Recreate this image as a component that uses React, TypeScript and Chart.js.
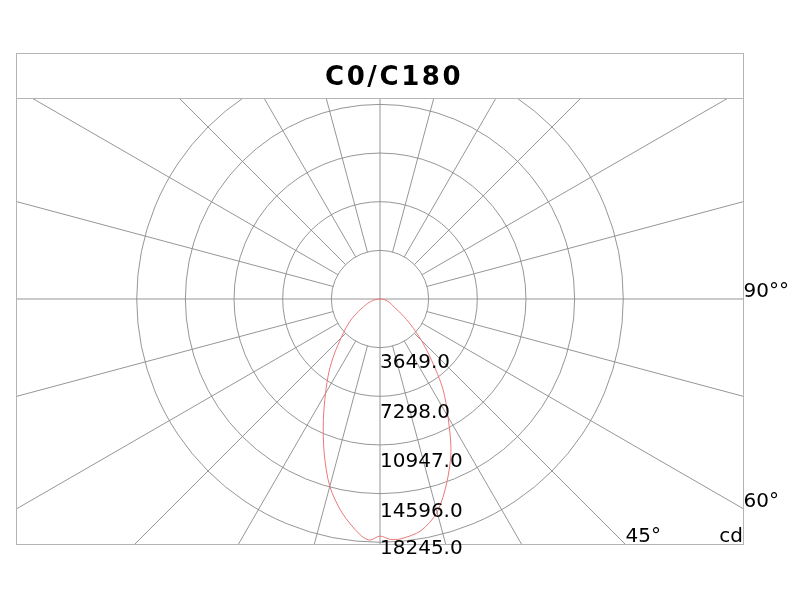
import React, { useEffect, useRef } from "react";
import { Chart, registerables } from "chart.js";

Chart.register(...registerables);

// ---- Data ----
const chartTitle = "C0/C180";
const gammaAngles = [0, 2.5, 5, 10, 15, 20, 25, 30, 35, 40, 45, 50, 55, 60, 65, 70, 75, 80, 85, 90];
const c0Intensity = [17780, 18050, 18050, 17650, 16550, 14650, 12600, 10200, 8220, 6040, 4400, 3020, 1990, 1250, 975, 750, 560, 375, 190, 0];
const c180Intensity = [17780, 18100, 17700, 16300, 14550, 12250, 10050, 8175, 6675, 5290, 4125, 3300, 2590, 1875, 1350, 1010, 710, 450, 225, 0];
const ringValues = [3649, 7298, 10947, 14596, 18245];
const ringLabels = ["3649.0", "7298.0", "10947.0", "14596.0", "18245.0"];
const spokeAngles = [0, 15, 30, 45, 60, 75, 90, 105, 120, 135, 150, 165, 180, 195, 210, 225, 240, 255, 270, 285, 300, 315, 330, 345];
const angleLabelAngles = [90, 60, 45];
const angleLabelTexts = ["90°°", "60°", "45°"];
const unitLabel = "cd";
const xRange = [-27300, 27225];
const yRange = [-18375, 15075];

const FONT = "'DejaVu Sans', Verdana, sans-serif";
const deg = Math.PI / 180;

function buildCurve() {
  const pts: { x: number; y: number }[] = [];
  for (let i = gammaAngles.length - 1; i >= 0; i--) {
    const a = gammaAngles[i] * deg;
    const v = c0Intensity[i];
    pts.push({ x: v * Math.sin(a), y: -v * Math.cos(a) });
  }
  for (let i = 1; i < gammaAngles.length; i++) {
    const a = gammaAngles[i] * deg;
    const v = c180Intensity[i];
    pts.push({ x: -v * Math.sin(a), y: -v * Math.cos(a) });
  }
  return pts;
}

const polarPlugin = {
  id: "polarGrid",
  beforeDatasetsDraw(chart: any) {
    const { ctx, chartArea: a, scales } = chart;
    const sx = scales.x;
    const sy = scales.y;
    const cx = sx.getPixelForValue(0);
    const cy = sy.getPixelForValue(0);
    ctx.save();
    ctx.beginPath();
    ctx.rect(a.left, a.top, a.right - a.left, a.bottom - a.top);
    ctx.clip();
    ctx.strokeStyle = "#8a8a8a";
    ctx.lineWidth = 0.9;
    ringValues.forEach((v) => {
      const r = sx.getPixelForValue(v) - cx;
      ctx.beginPath();
      ctx.arc(cx, cy, r, 0, Math.PI * 2);
      ctx.stroke();
    });
    const far = 80000;
    spokeAngles.forEach((ang) => {
      const start = ang % 90 === 0 ? 0 : ringValues[0];
      const s = Math.sin(ang * deg);
      const c = Math.cos(ang * deg);
      ctx.beginPath();
      ctx.moveTo(sx.getPixelForValue(start * s), sy.getPixelForValue(-start * c));
      ctx.lineTo(sx.getPixelForValue(far * s), sy.getPixelForValue(-far * c));
      ctx.stroke();
    });
    ctx.restore();
  },
  afterDatasetsDraw(chart: any) {
    const { ctx, chartArea: a, scales } = chart;
    const sx = scales.x;
    const sy = scales.y;
    const cx = sx.getPixelForValue(0);
    const cy = sy.getPixelForValue(0);
    ctx.save();
    // frame
    const titleTop = a.top - 45;
    ctx.strokeStyle = "#b4b4b4";
    ctx.lineWidth = 1;
    ctx.strokeRect(a.left + 0.5, titleTop + 0.5, a.right - a.left, a.bottom - titleTop);
    ctx.beginPath();
    ctx.moveTo(a.left, a.top + 0.5);
    ctx.lineTo(a.right, a.top + 0.5);
    ctx.stroke();

    // title
    ctx.fillStyle = "#000";
    ctx.font = `bold 26px ${FONT}`;
    ctx.textAlign = "left";
    ctx.textBaseline = "alphabetic";
    (ctx as any).letterSpacing = "2.6px";
    ctx.fillText(chartTitle, 325, titleTop + 32);
    (ctx as any).letterSpacing = "0px";

    // ring labels
    ctx.font = `20px ${FONT}`;
    ringValues.forEach((v, i) => {
      const yy = sy.getPixelForValue(-v);
      const base = Math.min(yy + 20.5 + i, a.bottom + 9.5);
      ctx.fillText(ringLabels[i], cx, base);
    });

    // angle labels at spoke ends
    angleLabelAngles.forEach((ang, i) => {
      const s = Math.sin(ang * deg);
      const c = Math.cos(ang * deg);
      const tRight = s > 1e-6 ? (a.right - cx) / s : Infinity;
      const tBottom = c > 1e-6 ? (a.bottom - cy) / c : Infinity;
      const t = Math.min(tRight, tBottom);
      const ex = cx + t * s;
      const ey = cy + t * c;
      ctx.fillText(angleLabelTexts[i], ex + 0.5, ey - 2);
    });

    ctx.textAlign = "right";
    ctx.fillText(unitLabel, a.right, a.bottom - 2.5);
    ctx.restore();
  },
};

export default function App() {
  const ref = useRef<HTMLCanvasElement | null>(null);
  useEffect(() => {
    document.body.style.margin = "0";
    const canvas = ref.current;
    if (!canvas) return;
    const chart = new Chart(canvas, {
      type: "scatter",
      data: {
        datasets: [
          {
            label: "C0/C180",
            data: buildCurve(),
            showLine: true,
            borderColor: "rgb(235,120,120)",
            borderWidth: 1,
            pointRadius: 0,
            tension: 0.3,
            fill: false,
          },
        ],
      },
      options: {
        responsive: false,
        animation: false,
        devicePixelRatio: 1,
        layout: { padding: { left: 16, top: 98, right: 58, bottom: 57 } },
        scales: {
          x: { type: "linear", min: xRange[0], max: xRange[1], display: false },
          y: { type: "linear", min: yRange[0], max: yRange[1], display: false },
        },
        plugins: { legend: { display: false }, tooltip: { enabled: false } },
      },
      plugins: [polarPlugin],
    } as any);
    return () => chart.destroy();
  }, []);
  return (
    <div style={{ position: "absolute", left: 0, top: 0, width: 801, height: 601, background: "#fff" }}>
      <canvas ref={ref} width={801} height={601} style={{ display: "block" }} />
    </div>
  );
}
